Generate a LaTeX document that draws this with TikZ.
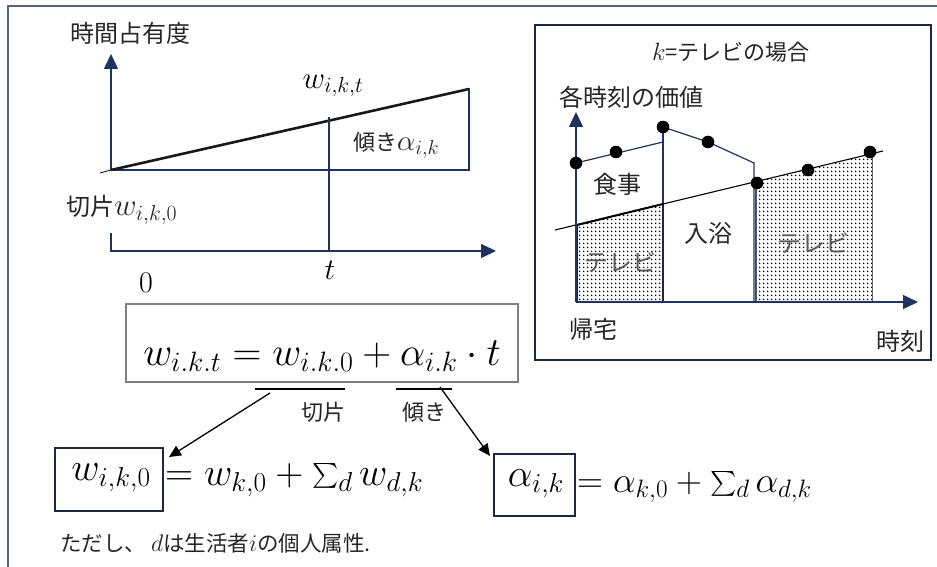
\RequirePackage{fix-cm}
\documentclass[tikz,border=0pt]{standalone}
\usepackage{amsmath}
\usepackage{fontspec}
\newfontfamily\jp{Noto Sans CJK JP}
\usetikzlibrary{arrows.meta,patterns.meta}
\definecolor{framec}{RGB}{86,100,122}
\definecolor{navy}{RGB}{31,50,96}
\definecolor{darknavy}{RGB}{28,40,66}
\definecolor{boxgray}{RGB}{128,128,128}
\definecolor{txt}{RGB}{38,38,38}
\definecolor{slate}{RGB}{68,84,106}
\begin{document}
\begin{tikzpicture}[x=1pt,y=-1pt,
  jpL/.style={font=\jp\fontsize{24}{28}\selectfont, text=txt, inner sep=0pt},
  jpM/.style={font=\jp\fontsize{22}{26}\selectfont, text=txt, inner sep=0pt},
  jpS/.style={font=\jp\fontsize{22}{26}\selectfont, text=txt, inner sep=0pt},
  jpG/.style={font=\jp\fontsize{24}{28}\selectfont, text=black!65, inner sep=0pt},
  mathL/.style={font=\fontsize{31}{36}\selectfont, inner sep=0pt},
  mathXL/.style={font=\fontsize{40}{46}\selectfont, inner sep=0pt},
  mathEq/.style={font=\fontsize{39}{45}\selectfont, inner sep=0pt},
  mathEqB/.style={font=\fontsize{36}{42}\selectfont, inner sep=0pt},
  navyaxis/.style={draw=navy, line width=1.4pt, -{Triangle[length=15pt,width=14pt]}},
  thinnavy/.style={draw=navy, line width=1.2pt},
  blackarrow/.style={draw=black, line width=1.3pt, -{Triangle[length=12pt,width=11pt]}},
  dotfill/.style={pattern={Dots[distance=4pt,radius=1pt]}, pattern color=black},
  bigdot/.style={fill=black, draw=none}
]
\useasboundingbox (0,0) rectangle (937,567);

% outer frame
\draw[framec, line width=2pt] (8,567) -- (8,6) -- (937,6);

% ---------- left graph ----------
\node[jpL] (ylabel) at (130,33) {時間占有度};
\draw[navyaxis] (111,170) -- (111,54);
\draw[navyaxis] (111,233) -- (111,251) -- (496,251);
\draw[black, line width=0.8pt] (100,173) -- (111,170);
\draw[navy, line width=2pt] (111,170) -- (469,170) -- (469,88);
\draw[black!90, line width=2.6pt] (111,170) -- (469,89);
\draw[navy, line width=1.5pt] (329,117) -- (329,251);
\node[mathL] (wikt) at (333,86) {$w_{i,k,t}$};
\node[anchor=west, inner sep=0pt] (slope) at (353,145) {\jp\fontsize{22}{26}\selectfont\color{txt}傾き\fontsize{29}{34}\selectfont$\alpha_{i,k}$};
\node[anchor=west, inner sep=0pt] (icpt) at (66,210) {\jp\fontsize{24}{28}\selectfont\color{txt}切片\fontsize{31}{36}\selectfont$w_{i,k,0}$};
\node[font=\fontsize{30}{34}\selectfont, inner sep=0pt] (tlab) at (330,270) {$t$};
\node[font=\fontsize{30}{34}\selectfont, inner sep=0pt] (zero) at (146,283) {$0$};

% ---------- right panel ----------
\draw[darknavy, line width=2.2pt] (535,25) rectangle (931,360);
\node[jpM] (title) at (731,52) {{\fontsize{25}{28}\selectfont$k$}=テレビの場合};
\node[jpL] (vlabel) at (631,97) {各時刻の価値};

% dotted TV regions
\fill[dotfill] (576,302) -- (576,225) -- (663,204) -- (663,302) -- cycle;
\fill[dotfill] (756,302) -- (756,182) -- (872,154) -- (872,302) -- cycle;

% region outlines
\draw[thinnavy] (663,127) -- (663,302);
\draw[thinnavy] (576,163) -- (663,142);
\draw[thinnavy] (663,127) -- (708,142) -- (754,163) -- (754,302);
\draw[darknavy, line width=2.4pt] (577,225) -- (577,302) -- (663,302) -- (663,204);
\draw[slate, line width=2.2pt] (756,182) -- (756,302);
\draw[black!60, line width=1pt] (872,154) -- (872,302);
\draw[black, line width=1.1pt] (555,230) -- (883,151);
\draw[black, line width=2pt] (577,225) -- (663,204);

% axes
\draw[navyaxis] (576,302) -- (576,112);
\draw[navyaxis] (576,302) -- (918,302);

% value dots
\foreach \p in {(576,163),(616,152),(663,127),(708,142),(757,183),(808,170),(870,152)}
  \fill[bigdot] \p circle (6.3pt);

\node[jpL] (meal) at (617,184) {食事};
\node[jpL] (bath) at (708,233) {入浴};
\node[jpG] (tv1) at (620,262) {テレビ};
\node[jpG] (tv2) at (813,243) {テレビ};
\node[jpL] (home) at (593,329) {帰宅};
\node[jpL] (timeL) at (900,341) {時刻};

% ---------- equations ----------
\draw[boxgray, line width=1.2pt] (126,304) rectangle (518,382);
\node[mathXL] (maineq) at (322,356) {$w_{i.k.t} = w_{i.k.0} + \alpha_{i.k}\cdot t$};

\coordinate (ul1a) at (255,389);
\coordinate (ul1b) at (345,389);
\coordinate (ul2a) at (396,389);
\coordinate (ul2b) at (452,389);
\draw[black, line width=2pt] (ul1a) -- (ul1b);
\draw[black, line width=2pt] (ul2a) -- (ul2b);
\node[jpS] (lab1) at (323,412) {切片};
\node[jpS] (lab2) at (424,412) {傾き};

\node[draw=darknavy, line width=2pt, minimum width=108pt, minimum height=63pt, inner sep=0pt] (box1) at (109,479.5) {};
\node[mathEq] (b1txt) at (111,478) {$w_{i,k,0}$};
\node[mathEq, anchor=west] (eq1) at (165,480) {$= w_{k,0} + \textstyle\sum_{d} w_{d,k}$};

\node[draw=darknavy, line width=2pt, minimum width=81pt, minimum height=62pt, inner sep=0pt] (box2) at (534.5,485) {};
\node[mathEq] (b2txt) at (536,484) {$\alpha_{i,k}$};
\node[mathEqB, anchor=west] (eq2) at (577,487) {$= \alpha_{k,0} + \textstyle\sum_{d} \alpha_{d,k}$};

\coordinate (a1s) at (270,393);
\coordinate (a2s) at (440,387);
\draw[blackarrow] (a1s) -- ([xshift=5pt,yshift=-10pt]box1.north east);
\draw[blackarrow] (a2s) -- ([xshift=-3pt,yshift=-3pt]box2.north west);

\node[anchor=west, inner sep=0pt] (note) at (60,543) {\jp\fontsize{21.5}{25}\selectfont\color{txt}ただし、 \fontsize{24}{28}\selectfont$d$\fontsize{21.5}{25}\selectfont は生活者\fontsize{24}{28}\selectfont$i$\fontsize{21.5}{25}\selectfont の個人属性.};
\end{tikzpicture}
\end{document}
